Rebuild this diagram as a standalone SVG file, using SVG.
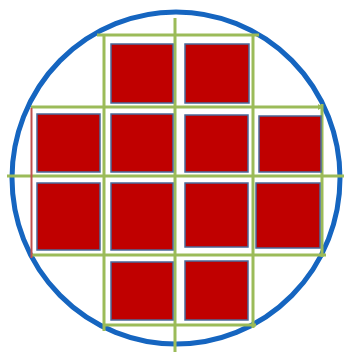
<svg xmlns="http://www.w3.org/2000/svg" width="344" height="352" viewBox="0 0 344 352">
<style>
.die{fill:#c00000;stroke:#4a6a9a;stroke-width:1.5}
.g{stroke:#9bbb59;stroke-width:3;fill:none}
</style>
<defs>
<marker id="ah" markerWidth="6" markerHeight="6" refX="4" refY="3" orient="auto" markerUnits="userSpaceOnUse">
<path d="M0,0 L5,3 L0,6 Z" fill="#9bbb59"/>
</marker>
</defs>
<rect width="344" height="352" fill="#ffffff"/>
<g id="wafer">
<ellipse cx="176" cy="178" rx="164" ry="166" fill="none" stroke="#1565c0" stroke-width="5"/>
</g>
<g id="connectors">
<line class="g" x1="104" y1="35" x2="104" y2="331"/>
<line class="g" x1="175" y1="18" x2="175" y2="352"/>
<line class="g" x1="253" y1="35" x2="253" y2="328"/>
<line class="g" x1="322" y1="104" x2="322" y2="257"/>
<line class="g" x1="97" y1="35" x2="259" y2="35"/>
<line class="g" x1="31" y1="107" x2="322" y2="107" marker-end="url(#ah)"/>
<line class="g" x1="7" y1="176" x2="344" y2="176"/>
<line class="g" x1="31" y1="255" x2="326" y2="255"/>
<line class="g" x1="104" y1="325" x2="256" y2="325"/>
<line x1="31.5" y1="108" x2="31.5" y2="258" stroke="#c0504d" stroke-width="2"/>
</g>
<g id="die-r1c2"><rect class="die" x="111" y="44" width="62" height="59"/></g>
<g id="die-r1c3"><rect class="die" x="185" y="44" width="64" height="59"/></g>
<g id="die-r2c1"><rect class="die" x="37" y="114" width="63" height="58"/></g>
<g id="die-r2c2"><rect class="die" x="111" y="114" width="62" height="58"/></g>
<g id="die-r2c3"><rect class="die" x="185" y="115" width="63" height="57"/></g>
<g id="die-r2c4"><rect class="die" x="259" y="116" width="62" height="56"/></g>
<g id="die-r3c1"><rect class="die" x="37" y="183" width="63" height="67"/></g>
<g id="die-r3c2"><rect class="die" x="111" y="183" width="62" height="67"/></g>
<g id="die-r3c3"><rect class="die" x="185" y="183" width="63" height="64"/></g>
<g id="die-r3c4"><rect class="die" x="256" y="183" width="64" height="65"/></g>
<g id="die-r4c2"><rect class="die" x="111" y="262" width="62" height="58"/></g>
<g id="die-r4c3"><rect class="die" x="185" y="261" width="63" height="59"/></g>
</svg>
